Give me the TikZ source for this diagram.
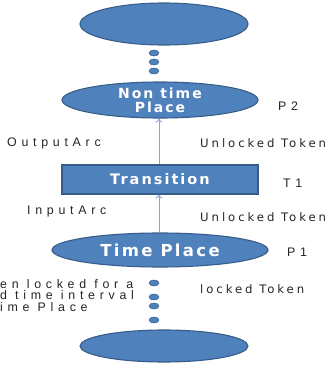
\documentclass[tikz,border=0pt]{standalone}
\usepackage{fontspec}
\usetikzlibrary{shapes.geometric,arrows.meta}
\setmainfont{Liberation Sans}
\newfontfamily\arcfont[LetterSpace=38]{Liberation Sans}
\newfontfamily\tokfont[LetterSpace=25]{DejaVu Sans}
\newfontfamily\boldfont[LetterSpace=14]{DejaVu Sans Bold}
\definecolor{placefill}{HTML}{4F81BD}
\definecolor{placeline}{HTML}{385D8A}
\definecolor{arcline}{HTML}{7FA7DA}
\definecolor{labeltext}{HTML}{262626}
\tikzset{
  place/.style={ellipse, draw=placeline, line width=1.1pt, fill=placefill,
    inner sep=0pt, text=white, align=center},
  transbox/.style={rectangle, draw=placeline, line width=1.1pt, fill=placefill,
    inner sep=0pt, text=white},
  tokendot/.style={ellipse, draw=placeline, line width=0.5pt, fill=placefill,
    minimum width=10pt, minimum height=6pt, inner sep=0pt},
  arclabel/.style={inner sep=0pt, anchor=west, text=labeltext,
    font=\arcfont\fontsize{12.4}{13}\selectfont},
  toklabel/.style={inner sep=0pt, anchor=west, text=labeltext,
    font=\tokfont\fontsize{11.7}{13}\selectfont},
  arc/.style={draw=arcline, line width=0.9pt, -{To[length=4pt,width=7pt]}}
}
\begin{document}
\begin{tikzpicture}[x=1pt,y=-1pt]
\useasboundingbox (0,0) rectangle (331,370);
\fill[white] (0,0) rectangle (331,370);

% places and transition
\node[place, minimum width=168pt, minimum height=42pt] (top) at (164,24) {};
\node[place, minimum width=196pt, minimum height=36pt,
  font=\boldfont\fontsize{14}{14}\selectfont] (p2) at (160,100) {Non time\\Place};
\node[transbox, minimum width=196pt, minimum height=29pt,
  font=\boldfont\fontsize{14.5}{16}\selectfont] (trans) at (160,179.5) {Transition};
\node[place, minimum width=216pt, minimum height=34pt,
  font=\boldfont\fontsize{16.5}{18}\selectfont] (tp) at (160,250) {Time Place};
\node[place, minimum width=168pt, minimum height=32pt] (bot) at (164,346) {};

% tokens
\node[tokendot] (a1) at (154,53) {};
\node[tokendot] (a2) at (154,62) {};
\node[tokendot] (a3) at (154,71) {};
\node[tokendot] (b1) at (154,283) {};
\node[tokendot] (b2) at (154,297) {};
\node[tokendot] (b3) at (154,306) {};
\node[tokendot] (b4) at (154,320) {};

% arcs
\draw[arc] (trans.north -| 159,0) -- (p2.south -| 159,0);
\draw[arc] (tp.north -| 159,0) -- (trans.south -| 159,0);

% labels
\node[arclabel] (lp2) at (278,106) {P2};
\node[arclabel] (lt1) at (283,183) {T1};
\node[arclabel] (lp1) at (287,252) {P1};
\node[arclabel] (lout) at (7,143) {OutputArc};
\node[arclabel] (lin) at (27,212) {InputArc};
\node[toklabel] (u1) at (200,143) {Unlocked Token};
\node[toklabel] (u2) at (200,217) {Unlocked Token};
\node[toklabel] (lk) at (200,289) {locked Token};
\node[arclabel, align=left, anchor=north west,
  font=\arcfont\fontsize{12.4}{11.5}\selectfont] (note) at (0,279)
  {en locked for a\\d time interval\\ime Place};
\end{tikzpicture}
\end{document}
